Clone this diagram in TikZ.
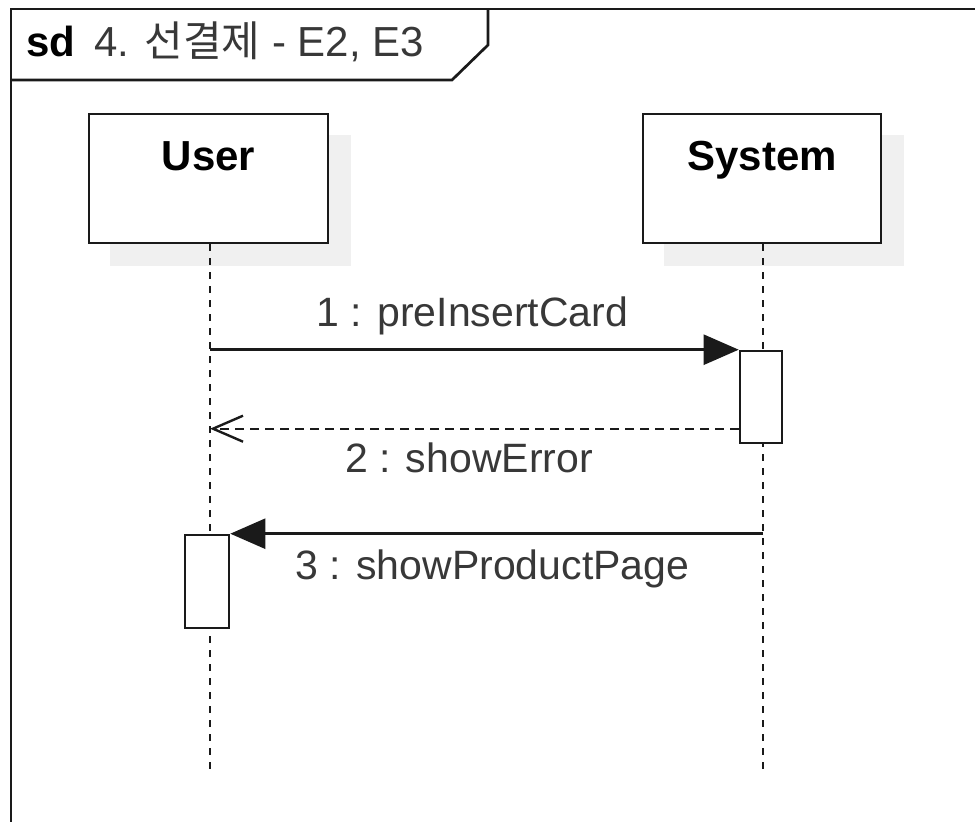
\documentclass[tikz,border=0pt]{standalone}
\usepackage{fontspec}
\setmainfont{Liberation Sans}
\newfontfamily\krfont{Noto Sans CJK KR}
\usetikzlibrary{arrows.meta,backgrounds}
\definecolor{shadowgray}{HTML}{F0F0F0}
\definecolor{txtgray}{HTML}{383838}
\definecolor{linecol}{HTML}{1A1A1A}
\tikzset{
  head/.style={draw=linecol, fill=white, line width=2.7pt, minimum height=129pt, inner sep=0pt},
  headtext/.style={anchor=base, font=\fontsize{42}{50}\selectfont\bfseries, text=black, inner sep=0pt},
  act/.style={draw=linecol, fill=white, line width=2.6pt, inner sep=0pt},
  lifeline/.style={draw=linecol, line width=2.3pt, dash pattern=on 7pt off 7pt},
  msg/.style={draw=linecol, line width=2.5pt, -{Triangle[length=35pt, width=30pt]}},
  ret/.style={draw=linecol, line width=2.4pt, dash pattern=on 9pt off 6pt, -{Straight Barb[length=30pt, width=26pt, line width=2.4pt]}},
  msgtext/.style={anchor=base, font=\fontsize{41}{49}\selectfont, text=txtgray, inner sep=0pt},
  framestyle/.style={draw=linecol, line width=2.7pt},
  shadow/.style={fill=shadowgray, draw=none}
}
\begin{document}
\begin{tikzpicture}[x=1pt,y=-1pt]
\useasboundingbox (0,0) rectangle (975,822);
% frame
\coordinate (ftl) at (11,9);
\coordinate (ftr) at (990,9);
\coordinate (fbl) at (11,840);
\draw[framestyle] (fbl) -- (ftl) -- (ftr);
\coordinate (t1) at (488,9);
\coordinate (t2) at (488,45);
\coordinate (t3) at (452,80);
\coordinate (t4) at (11,80);
\draw[framestyle, line join=miter] (t1) -- (t2) -- (t3) -- (t4);
\node[anchor=base west, inner sep=0pt] (title) at (26,56)
  {\fontsize{42}{50}\selectfont\textbf{sd}\hspace{0.45em}\color{txtgray}4. {\krfont 선결제} - E2, E3};
% heads
\node[head, minimum width=239pt] (user) at (208.5,178.5) {};
\node[head, minimum width=238pt] (sys) at (762,178.5) {};
\node[headtext] (usert) at (208.5,170) {User};
\node[headtext] (syst) at (762,170) {System};
\begin{scope}[on background layer]
  \fill[shadow] ([shift={(22,22)}]user.south west) rectangle ([shift={(22,22)}]user.north east);
  \fill[shadow] ([shift={(22,22)}]sys.south west) rectangle ([shift={(22,22)}]sys.north east);
\end{scope}
% lifelines
\coordinate (uend) at (210,770);
\coordinate (send) at (763,770);
\begin{scope}[on background layer]
\draw[lifeline] (user.south -| uend) -- (uend);
\draw[lifeline] (sys.south -| send) -- (send);
\end{scope}
% activations
\node[act, minimum width=42pt, minimum height=92pt] (sact) at (761,397) {};
\node[act, minimum width=44pt, minimum height=93pt] (uact) at (207,581.5) {};
% messages
\draw[msg] (uend |- sact.north) -- (sact.north west);
\node[msgtext] (m1) at (472.5,326) {1 : preInsertCard};
\draw[ret] ([yshift=-79pt]sact.north west) coordinate (m2s) -- (m2s -| uend);
\node[msgtext] (m2) at (469,472) {2 : showError};
\draw[msg] (send |- uact.north) -- (uact.north east);
\node[msgtext] (m3) at (492.5,579) {3 : showProductPage};
\end{tikzpicture}
\end{document}
